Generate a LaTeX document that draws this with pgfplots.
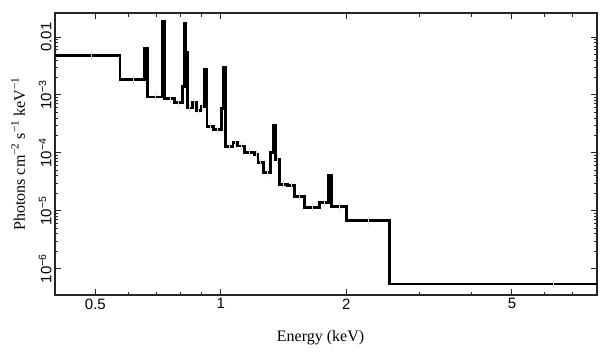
\documentclass[border=0pt]{standalone}
\usepackage{pgfplots}
\pgfplotsset{compat=1.18}
\usepackage{fontspec}
\setmainfont{Liberation Serif}
\setsansfont{Liberation Sans}
\begin{document}
\begin{tikzpicture}[x=1pt,y=1pt]
\path[use as bounding box] (-55,-62) rectangle (554,295);
\begin{axis}[at={(0,0)},anchor=south west,scale only axis,width=542pt,height=282pt,
  xmode=log,ymode=log,xmin=0.4,xmax=8,ymin=3.52e-7,ymax=0.026,
  xtick={0.5,1,2,5}, xticklabels={0.5,1,2,5},
  minor xtick={0.6,0.7,0.8,0.9,3,4,6,7,8},
  ytick={1e-6,1e-5,1e-4,1e-3,1e-2},
  yticklabels={10\textsuperscript{−6},10\textsuperscript{−5},10\textsuperscript{−4},10\textsuperscript{−3},0.01},
  tick label style={font=\sffamily\fontsize{15}{15}\selectfont},
  yticklabel style={rotate=90, anchor=south},
  tick align=inside, xtick pos=both, ytick pos=both,
  major tick length=6pt, minor tick length=3.5pt,
  axis line style={line width=1.4pt, black!85},
  every tick/.style={line width=1pt,black!85},
  xlabel={Energy (keV)},
  ylabel={Photons cm\textsuperscript{−2} s\textsuperscript{−1} keV\textsuperscript{−1}},
  label style={font=\fontsize{16}{16}\selectfont},
  xlabel style={at={(axis description cs:0.49,-0.152)},anchor=center},
  ylabel style={at={(axis description cs:-0.068,0.5)},anchor=center},
  clip=true,
]
\addplot[only marks, mark=|, mark size=4pt, gray!30, line width=0.8pt] coordinates {
(0.49,4.83e-3) (0.616,1.84e-3) (0.698,9.24e-4) (0.755,8.67e-4) (0.79,7.4e-4)
(0.843,5.97e-4) (0.864,7.57e-4) (0.885,5.45e-4) (0.905,6.38e-4) (0.944,2.88e-4)
(0.983,2.53e-4) (1.048,1.31e-4) (1.083,1.51e-4) (1.119,1.32e-4) (1.174,1.02e-4)
(1.217,9.5e-5) (1.248,6.83e-5) (1.292,4.52e-5) (1.368,7.7e-5) (1.416,2.88e-5)
(1.476,2.7e-5) (1.546,1.79e-5) (1.656,1.15e-5) (1.771,1.37e-5) (1.925,1.17e-5)
(2.258,6.73e-6) (6.3,5.45e-7)
};
\addplot[const plot mark left, black, line width=2.8pt, line join=miter] coordinates {
(0.40,4.83e-3)
(0.573,1.84e-3)
(0.655,6.45e-3)
(0.668,9.24e-4)
(0.724,0.0188)
(0.734,8.67e-4)
(0.776,7.4e-4)
(0.808,1.41e-3)
(0.820,0.0174)
(0.825,5.5e-3)
(0.832,5.97e-4)
(0.854,7.57e-4)
(0.875,5.45e-4)
(0.896,6.38e-4)
(0.914,2.74e-3)
(0.927,2.88e-4)
(0.962,2.53e-4)
(1.005,5.83e-4)
(1.017,3.04e-3)
(1.026,1.31e-4)
(1.070,1.51e-4)
(1.096,1.32e-4)
(1.142,1.02e-4)
(1.206,9.5e-5)
(1.228,6.83e-5)
(1.268,4.52e-5)
(1.317,1.02e-4)
(1.334,3.0e-4)
(1.353,7.7e-5)
(1.384,2.88e-5)
(1.449,2.7e-5)
(1.504,1.79e-5)
(1.589,1.15e-5)
(1.726,1.37e-5)
(1.817,4.13e-5)
(1.847,1.17e-5)
(2.007,6.73e-6)
(2.54,5.45e-7)
(8.0,5.45e-7)
};
\end{axis}
\end{tikzpicture}
\end{document}
